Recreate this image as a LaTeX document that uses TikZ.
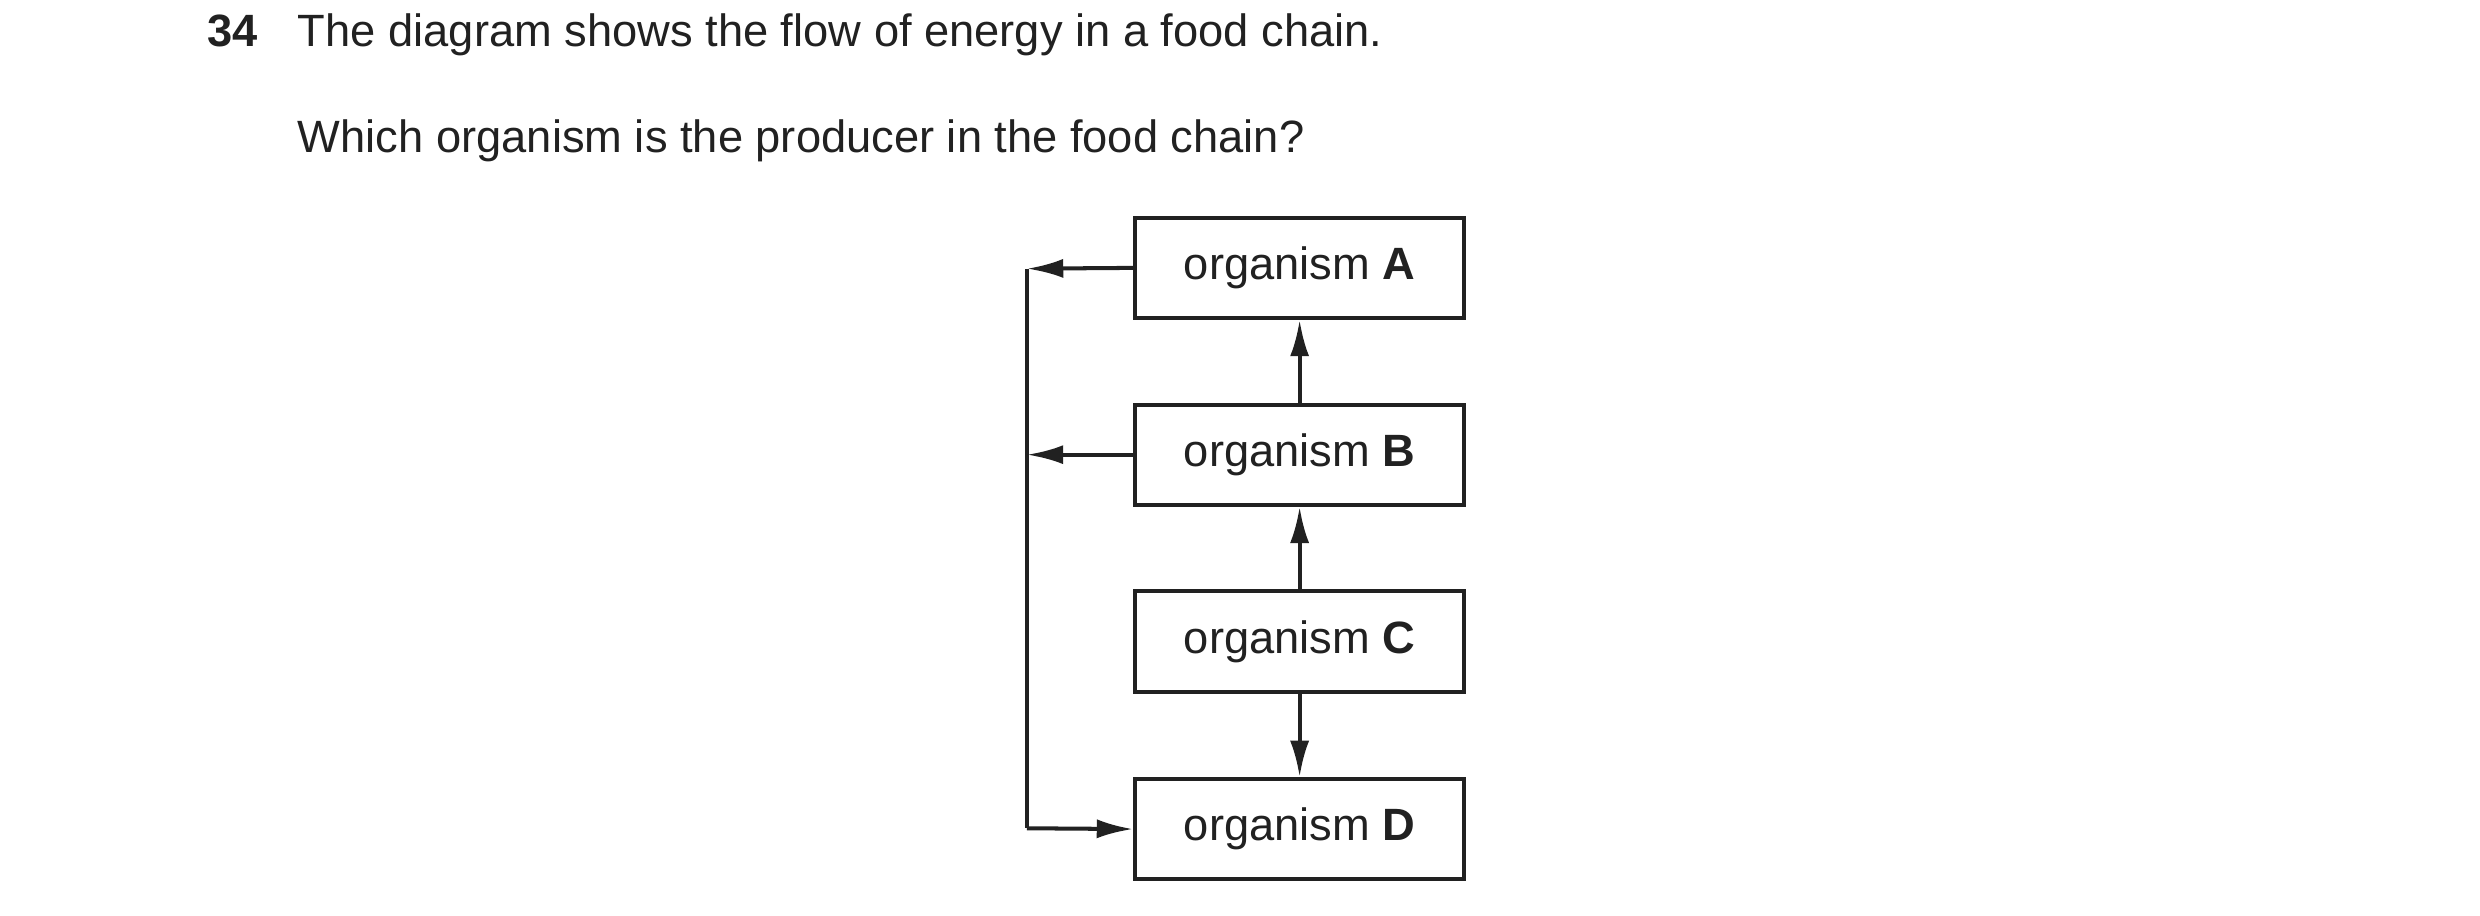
\documentclass[tikz,border=0pt]{standalone}
\usepackage{fontspec}
\setmainfont{Liberation Sans}
\usetikzlibrary{arrows.meta}
\definecolor{Ink}{rgb}{0.13,0.13,0.13}

\tikzset{
	orgbox/.style={draw=Ink, line width=1.2pt, minimum width=3.45cm, minimum height=1.05cm, inner sep=0pt, text=Ink},
	flow/.style={draw=Ink, line width=1.2pt, -{Latex[length=0.38cm,width=0.2cm]}},
	txt/.style={anchor=base west, inner sep=0pt, text=Ink}
}

\begin{document}
\begin{tikzpicture}[x=0.016667cm, y=-0.016667cm, font=\fontsize{13.5}{16}\selectfont]
	\useasboundingbox (0,0) rectangle (1560,576);
	\node[txt, font=\fontsize{13.5}{16}\selectfont\bfseries] (num) at (130,29) {34};
	\node[txt] (q1) at (187,29) {The diagram shows the flow of energy in a food chain.};
	\node[txt] (q2) at (187,96) {Which organism is the producer in the food chain?};

	\node[orgbox] (A) at (817.5,168.5) {organism \textbf{A}};
	\node[orgbox] (B) at (817.5,286) {organism \textbf{B}};
	\node[orgbox] (C) at (817.5,403.5) {organism \textbf{C}};
	\node[orgbox] (D) at (817.5,521.5) {organism \textbf{D}};

	\coordinate (ta) at (646,169);
	\coordinate (tb) at (646,286);
	\coordinate (td) at (646,521);

	\draw[flow] (C) -- (B);
	\draw[flow] (B) -- (A);
	\draw[flow] (C) -- (D);
	\draw[flow] (A.west) -- (ta);
	\draw[flow] (B.west) -- (tb);
	\draw[draw=Ink, line width=1.2pt] (ta) -- (td);
	\draw[flow] (td) -- (D.west);
\end{tikzpicture}
\end{document}
